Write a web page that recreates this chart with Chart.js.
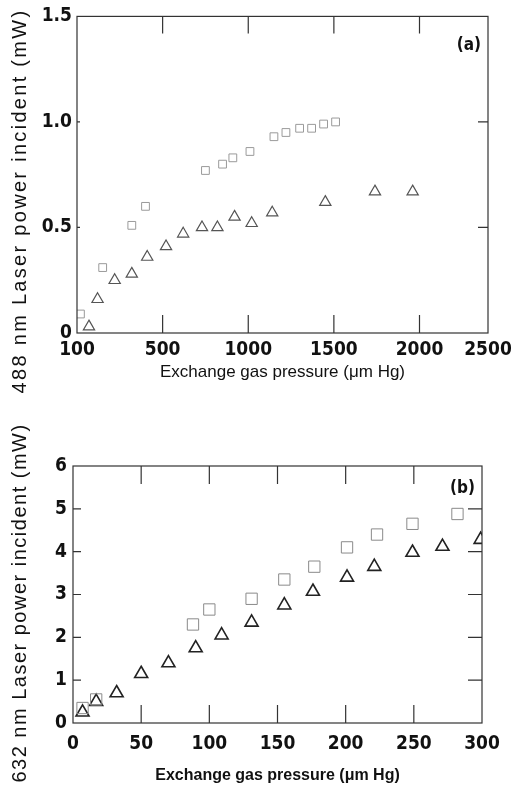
<!DOCTYPE html>
<html>
<head>
<meta charset="utf-8">
<script src="https://cdn.jsdelivr.net/npm/chart.js@4.4.1/dist/chart.umd.min.js"></script>
<style>
    body { margin: 0; background: #fff; }
    .panel { position: absolute; left: 0; width: 511px; }
    #boxA { top: 0; height: 400px; }
    #boxB { top: 400px; height: 390px; }
</style>
</head>
<body>
<div class="panel" id="boxA"><canvas id="chartA"></canvas></div>
<div class="panel" id="boxB"><canvas id="chartB"></canvas></div>
<script>
// (a) 488 nm
var pressA_sq = [20, 150, 320, 400, 750, 850, 910, 1010, 1150, 1220, 1300, 1370, 1440, 1510];
var powerA_sq = [0.09, 0.31, 0.51, 0.60, 0.77, 0.80, 0.83, 0.86, 0.93, 0.95, 0.97, 0.97, 0.99, 1.00];
var pressA_tri = [70, 120, 220, 320, 410, 520, 620, 730, 820, 920, 1020, 1140, 1450, 1740, 1960];
var powerA_tri = [0.03, 0.16, 0.25, 0.28, 0.36, 0.41, 0.47, 0.50, 0.50, 0.55, 0.52, 0.57, 0.62, 0.67, 0.67];
var xTicksA = [0, 500, 1000, 1500, 2000, 2400];
var xLabelsA = ['100', '500', '1000', '1500', '2000', '2500'];
var yTicksA = [0, 0.5, 1.0, 1.5];
var yLabelsA = ['0', '0.5', '1.0', '1.5'];

// (b) 632 nm
var pressB_sq = [7, 17, 88, 100, 131, 155, 177, 201, 223, 249, 282];
var powerB_sq = [0.35, 0.55, 2.3, 2.65, 2.9, 3.35, 3.65, 4.1, 4.4, 4.65, 4.88];
var pressB_tri = [7, 17, 32, 50, 70, 90, 109, 131, 155, 176, 201, 221, 249, 271, 299];
var powerB_tri = [0.25, 0.5, 0.7, 1.15, 1.4, 1.75, 2.05, 2.35, 2.75, 3.07, 3.4, 3.65, 3.98, 4.12, 4.28];
var xTicksB = [0, 50, 100, 150, 200, 250, 300];
var yTicksB = [0, 1, 2, 3, 4, 5, 6];

var tickFont = { family: "'DejaVu Sans Condensed', sans-serif", size: 19, weight: 'bold' };

function pts(xs, ys) {
    var out = [];
    for (var i = 0; i < xs.length; i++) out.push({ x: xs[i], y: ys[i] });
    return out;
}

// box round the plot, ticks pointing inward, panel letter, y title
var frameTicks = {
    id: 'frameTicks',
    afterDraw: function (chart, args, opts) {
        var ctx = chart.ctx, a = chart.chartArea;
        var xs = chart.scales.x, ys = chart.scales.y;
        ctx.save();
        ctx.strokeStyle = '#333';
        ctx.lineWidth = 1.2;
        ctx.strokeRect(a.left, a.top, a.right - a.left, a.bottom - a.top);
        ctx.beginPath();
        xs.ticks.forEach(function (t) {
            if (t.value <= xs.min || t.value >= xs.max) return;
            var px = xs.getPixelForValue(t.value);
            ctx.moveTo(px, a.top); ctx.lineTo(px, a.top + opts.top);
            ctx.moveTo(px, a.bottom); ctx.lineTo(px, a.bottom - opts.bottom);
        });
        ys.ticks.forEach(function (t) {
            if (t.value <= ys.min || t.value >= ys.max) return;
            var py = ys.getPixelForValue(t.value);
            ctx.moveTo(a.left, py); ctx.lineTo(a.left + opts.left, py);
            ctx.moveTo(a.right, py); ctx.lineTo(a.right - opts.right, py);
        });
        ctx.stroke();
        ctx.fillStyle = '#111';
        ctx.font = "bold 17px 'DejaVu Sans Condensed', sans-serif";
        ctx.textAlign = 'right';
        ctx.textBaseline = 'top';
        ctx.fillText(opts.label, a.right - 7, a.top + opts.labelDy);

        // y title, spaced out like the print
        ctx.translate(20, opts.titleY);
        ctx.rotate(-Math.PI / 2);
        ctx.font = "20px 'Liberation Sans', sans-serif";
        ctx.letterSpacing = opts.spacing;
        ctx.textAlign = 'center';
        ctx.textBaseline = 'middle';
        ctx.fillText(opts.yTitle, 0, 0);
        ctx.restore();
    }
};

function makeChart(id, cfg) {
    var ctx = document.getElementById(id).getContext('2d');
    return new Chart(ctx, {
        type: 'scatter',
        data: {
            datasets: [
                {
                    data: pts(cfg.sqX, cfg.sqY),
                    pointStyle: 'rect',
                    pointRadius: cfg.sqR,
                    backgroundColor: 'rgba(0,0,0,0)',
                    borderColor: cfg.sqColor,
                    borderWidth: 1
                },
                {
                    data: pts(cfg.triX, cfg.triY),
                    pointStyle: 'triangle',
                    pointRadius: cfg.triR,
                    backgroundColor: 'rgba(0,0,0,0)',
                    borderColor: cfg.triColor,
                    borderWidth: cfg.triW
                }
            ]
        },
        options: {
            responsive: true,
            maintainAspectRatio: false,
            animation: false,
            layout: { padding: { top: cfg.padTop, right: cfg.padRight, left: 0, bottom: 0 } },
            plugins: {
                legend: { display: false },
                tooltip: { enabled: false },
                frameTicks: cfg.frame
            },
            scales: {
                x: {
                    type: 'linear',
                    min: cfg.xMin, max: cfg.xMax,
                    afterBuildTicks: function (s) { s.ticks = cfg.xTicks.map(function (v) { return { value: v }; }); },
                    afterFit: function (s) { s.height = 67; s.paddingLeft = 0; s.paddingRight = 0; },
                    grid: { display: false, drawTicks: false },
                    border: { display: false },
                    ticks: {
                        autoSkip: false, maxRotation: 0, padding: cfg.xTickPad,
                        color: '#111', font: tickFont,
                        callback: function (v, i) { return cfg.xLabels[i]; }
                    },
                    title: {
                        display: true,
                        text: 'Exchange gas pressure (μm Hg)',
                        color: '#111',
                        font: { family: "'Liberation Sans', sans-serif", size: cfg.xTitleSize, weight: cfg.xTitleWeight },
                        padding: { top: 0, bottom: cfg.xTitlePad }
                    }
                },
                y: {
                    min: cfg.yMin, max: cfg.yMax,
                    afterBuildTicks: function (s) { s.ticks = cfg.yTicks.map(function (v) { return { value: v }; }); },
                    afterFit: function (s) { s.width = cfg.yWidth; },
                    grid: { display: false, drawTicks: false },
                    border: { display: false },
                    ticks: {
                        padding: cfg.yTickPad, color: '#111', font: tickFont,
                        callback: function (v, i) { return cfg.yLabels[i]; }
                    }
                }
            }
        },
        plugins: [frameTicks]
    });
}

makeChart('chartA', {
    sqX: pressA_sq, sqY: powerA_sq, triX: pressA_tri, triY: powerA_tri,
    sqR: 5.5, sqColor: '#9a9a9a', triR: 6.5, triColor: '#555', triW: 1.2,
    xMin: 0, xMax: 2400, xTicks: xTicksA, xLabels: xLabelsA,
    yMin: 0, yMax: 1.5, yTicks: yTicksA, yLabels: yLabelsA,
    padTop: 16, padRight: 23, yWidth: 77, xTickPad: 6, yTickPad: 5,
    xTitlePad: 17, xTitleSize: 17, xTitleWeight: 'normal',
    frame: { top: 17, bottom: 18, left: 3, right: 10, label: '(a)', labelDy: 21,
             yTitle: '488 nm Laser power incident (mW)', titleY: 201, spacing: '2.3px' }
});

makeChart('chartB', {
    sqX: pressB_sq, sqY: powerB_sq, triX: pressB_tri, triY: powerB_tri,
    sqR: 8, sqColor: '#8a8a8a', triR: 7.5, triColor: '#222', triW: 1.6,
    xMin: 0, xMax: 300, xTicks: xTicksB, xLabels: xTicksB.map(String),
    yMin: 0, yMax: 6, yTicks: yTicksB, yLabels: yTicksB.map(String),
    padTop: 66, padRight: 29, yWidth: 73, xTickPad: 10, yTickPad: 6,
    xTitlePad: 5, xTitleSize: 16, xTitleWeight: 'bold',
    frame: { top: 18, bottom: 18, left: 8, right: 14, label: '(b)', labelDy: 14,
             yTitle: '632 nm Laser power incident (mW)', titleY: 203, spacing: '1.5px' }
});
</script>
</body>
</html>
